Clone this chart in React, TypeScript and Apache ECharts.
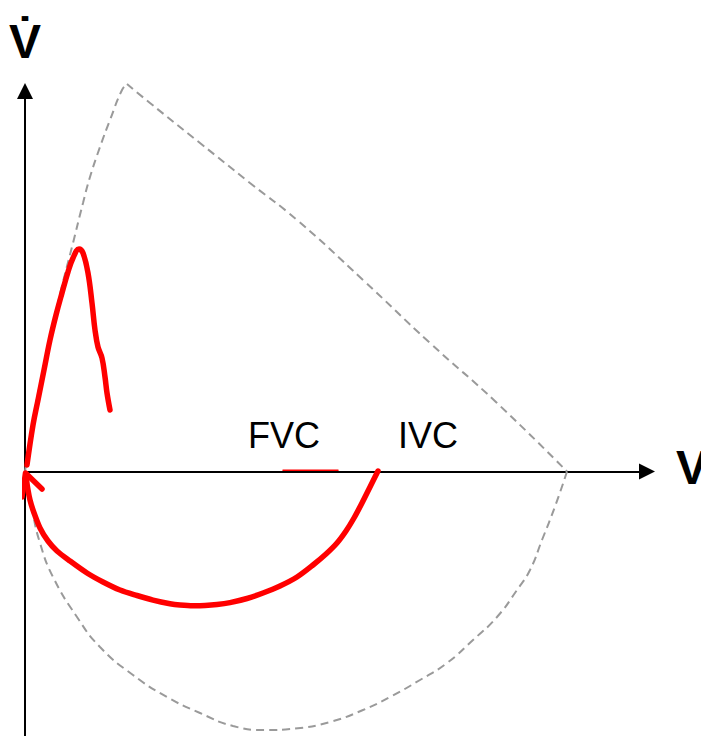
import React, { useEffect, useRef } from "react";
import * as echarts from "echarts";

// Volume (x) and flow (y) in arbitrary units
const normalExpiration: [number, number][] = [
  [0, 0], [0.08, 0.515], [0.17, 0.965], [0.27, 1.415], [0.36, 1.815], [0.47, 2.245],
  [0.58, 2.685], [0.65, 2.945], [0.75, 3.245], [0.85, 3.515], [0.97, 3.815], [1.02, 3.875],
];
const normalDescent: [number, number][] = [
  [1.02, 3.875], [1.25, 3.685], [1.75, 3.285], [2.25, 2.885], [2.72, 2.515], [3.38, 1.915],
  [4.05, 1.285], [4.72, 0.685], [5.42, 0],
];
const normalInspiration: [number, number][] = [
  [5.42, 0], [5.3, -0.35], [5.17, -0.685], [5.05, -0.985], [4.92, -1.185], [4.72, -1.455], [4.48, -1.685],
  [4.22, -1.915], [3.95, -2.085], [3.65, -2.255], [3.38, -2.385], [3.05, -2.505], [2.7, -2.57],
  [2.4, -2.585], [2.08, -2.545], [1.75, -2.415], [1.42, -2.255], [1.08, -2.035], [0.75, -1.755],
  [0.52, -1.455], [0.28, -1.055], [0.15, -0.715], [0.07, -0.385], [0.03, -0.185], [0, 0],
];
const patientExpiration: [number, number][] = [
  [0.02, 0.065], [0.08, 0.465], [0.13, 0.715], [0.19, 1.015], [0.25, 1.315], [0.31, 1.565],
  [0.37, 1.785], [0.43, 1.995], [0.48, 2.135], [0.54, 2.225], [0.58, 2.185], [0.63, 1.985],
  [0.67, 1.685], [0.7, 1.415], [0.73, 1.245], [0.77, 1.135], [0.8, 0.945], [0.82, 0.785],
  [0.85, 0.615],
];
const patientInspiration: [number, number][] = [
  [3.53, 0.005], [3.45, -0.155], [3.37, -0.315], [3.29, -0.465], [3.21, -0.595], [3.12, -0.715],
  [3.01, -0.825], [2.88, -0.935], [2.72, -1.055], [2.55, -1.145], [2.38, -1.215], [2.22, -1.27],
  [2.05, -1.311], [1.92, -1.331], [1.8, -1.341], [1.68, -1.343], [1.55, -1.335], [1.45, -1.322],
  [1.28, -1.286], [1.12, -1.24], [0.95, -1.185], [0.78, -1.105], [0.62, -1.015], [0.45, -0.895],
  [0.32, -0.795], [0.23, -0.695], [0.15, -0.565], [0.08, -0.385], [0.05, -0.285], [0.03, -0.185],
  [0.01, -0.045],
];
const patientArrowHead: [number, number][] = [
  [-0.03, -0.255], [0.005, -0.015], [0.17, -0.175],
];
const fvcMark: [number, number][] = [
  [2.58, 0.012], [3.13, 0.012],
];
const labels = { flow: "V\u0307", volume: "V", fvc: "FVC", ivc: "IVC" };

const FONT = "'Liberation Sans', Arial, sans-serif";
const GRAY = "#9a9a9a";
const RED = "#ff0000";

export default function App() {
  const ref = useRef<HTMLDivElement>(null);
  useEffect(() => {
    if (!ref.current) return;
    const chart = echarts.init(ref.current, null, { renderer: "svg" });
    const dashed = (data: [number, number][]) => ({
      type: "line", data, showSymbol: false, smooth: 0.5, clip: false, silent: true,
      lineStyle: { color: GRAY, width: 2, type: [8, 5] },
    });
    const red = (data: [number, number][], width: number, smooth: number | boolean) => ({
      type: "line", data, showSymbol: false, smooth, clip: false, silent: true,
      lineStyle: { color: RED, width, cap: "round", join: "round" },
    });
    chart.setOption({
      animation: false,
      grid: { left: 25, right: 54, top: 91, bottom: 0, containLabel: false },
      xAxis: {
        type: "value", min: 0, max: 6.22,
        axisLine: { onZero: true, symbol: ["none", "triangle"], symbolSize: [16, 16], lineStyle: { color: "#000", width: 2 } },
        axisTick: { show: false }, axisLabel: { show: false }, splitLine: { show: false },
      },
      yAxis: {
        type: "value", min: -2.645, max: 3.805,
        axisLine: { show: true, onZero: true, symbol: ["none", "triangle"], symbolSize: [16, 16], lineStyle: { color: "#000", width: 2 } },
        axisTick: { show: false }, axisLabel: { show: false }, splitLine: { show: false },
      },
      series: [
        dashed(normalExpiration),
        dashed(normalDescent),
        dashed(normalInspiration),
        red(fvcMark, 1.5, false),
        red(patientExpiration, 5.5, 0.4),
        red(patientInspiration, 5.5, 0.3),
        red(patientArrowHead, 5.5, false),
      ],
      graphic: [
        { type: "text", x: 9, y: 41, style: { text: labels.flow, font: `bold 48px ${FONT}`, fill: "#000", textAlign: "left", textVerticalAlign: "middle" } },
        { type: "text", x: 676, y: 467.5, style: { text: labels.volume, font: `bold 48px ${FONT}`, fill: "#000", textAlign: "left", textVerticalAlign: "middle" } },
        { type: "text", x: 248, y: 435.5, style: { text: labels.fvc, font: `36px ${FONT}`, fill: "#000", textAlign: "left", textVerticalAlign: "middle" } },
        { type: "text", x: 398, y: 435.5, style: { text: labels.ivc, font: `36px ${FONT}`, fill: "#000", textAlign: "left", textVerticalAlign: "middle" } },
      ],
    });
    return () => chart.dispose();
  }, []);
  return (
    <div style={{ position: "fixed", left: 0, top: 0, width: 701, height: 736, background: "#fff" }}>
      <div ref={ref} style={{ width: 701, height: 736 }} />
    </div>
  );
}
